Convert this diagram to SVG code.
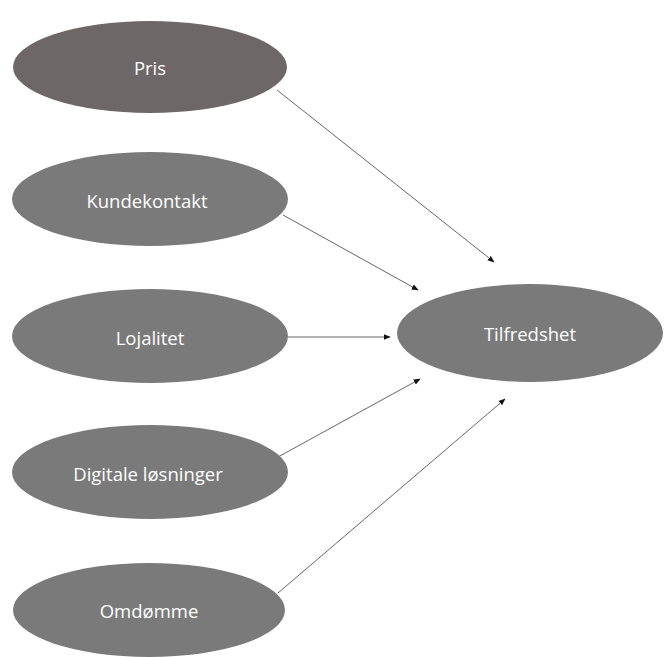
<svg xmlns="http://www.w3.org/2000/svg" width="664" height="657" viewBox="0 0 664 657">
<style>
.n{fill:#7a7a7a;}
.p{fill:#6e6767;}
.t{fill:#ffffff;font-family:"Open Sans","Liberation Sans",sans-serif;font-size:18.5px;text-anchor:middle;dominant-baseline:central;}
.c{stroke:#666666;stroke-width:1;fill:none;marker-end:url(#ah);}
</style>
<defs>
<marker id="ah" viewBox="0 0 10 10" refX="9" refY="5" markerWidth="7" markerHeight="7" orient="auto" markerUnits="userSpaceOnUse">
<path d="M0,1 L10,5 L0,9 z" fill="#111"/>
</marker>
</defs>
<rect width="664" height="657" fill="#ffffff"/>
<g id="connectors">
<line class="c" x1="277" y1="90" x2="494" y2="262"/>
<line class="c" x1="283" y1="215" x2="418" y2="290"/>
<line class="c" x1="288" y1="337" x2="390" y2="337"/>
<line class="c" x1="278" y1="457" x2="420" y2="379"/>
<line class="c" x1="278" y1="593" x2="505" y2="399"/>
</g>
<g id="pris"><ellipse class="p" cx="150" cy="67" rx="137" ry="46"/><text class="t" x="150" y="67">Pris</text></g>
<g id="kundekontakt"><ellipse class="n" cx="150" cy="199" rx="138" ry="47"/><text class="t" x="147" y="200">Kundekontakt</text></g>
<g id="lojalitet"><ellipse class="n" cx="150" cy="336" rx="138" ry="47"/><text class="t" x="150" y="337">Lojalitet</text></g>
<g id="digitale"><ellipse class="n" cx="150" cy="472" rx="138" ry="47"/><text class="t" x="148" y="473">Digitale løsninger</text></g>
<g id="omdomme"><ellipse class="n" cx="149" cy="610" rx="136" ry="47"/><text class="t" x="149" y="610">Omdømme</text></g>
<g id="tilfredshet"><ellipse class="n" cx="530" cy="333" rx="133" ry="49"/><text class="t" x="530" y="333">Tilfredshet</text></g>
</svg>
